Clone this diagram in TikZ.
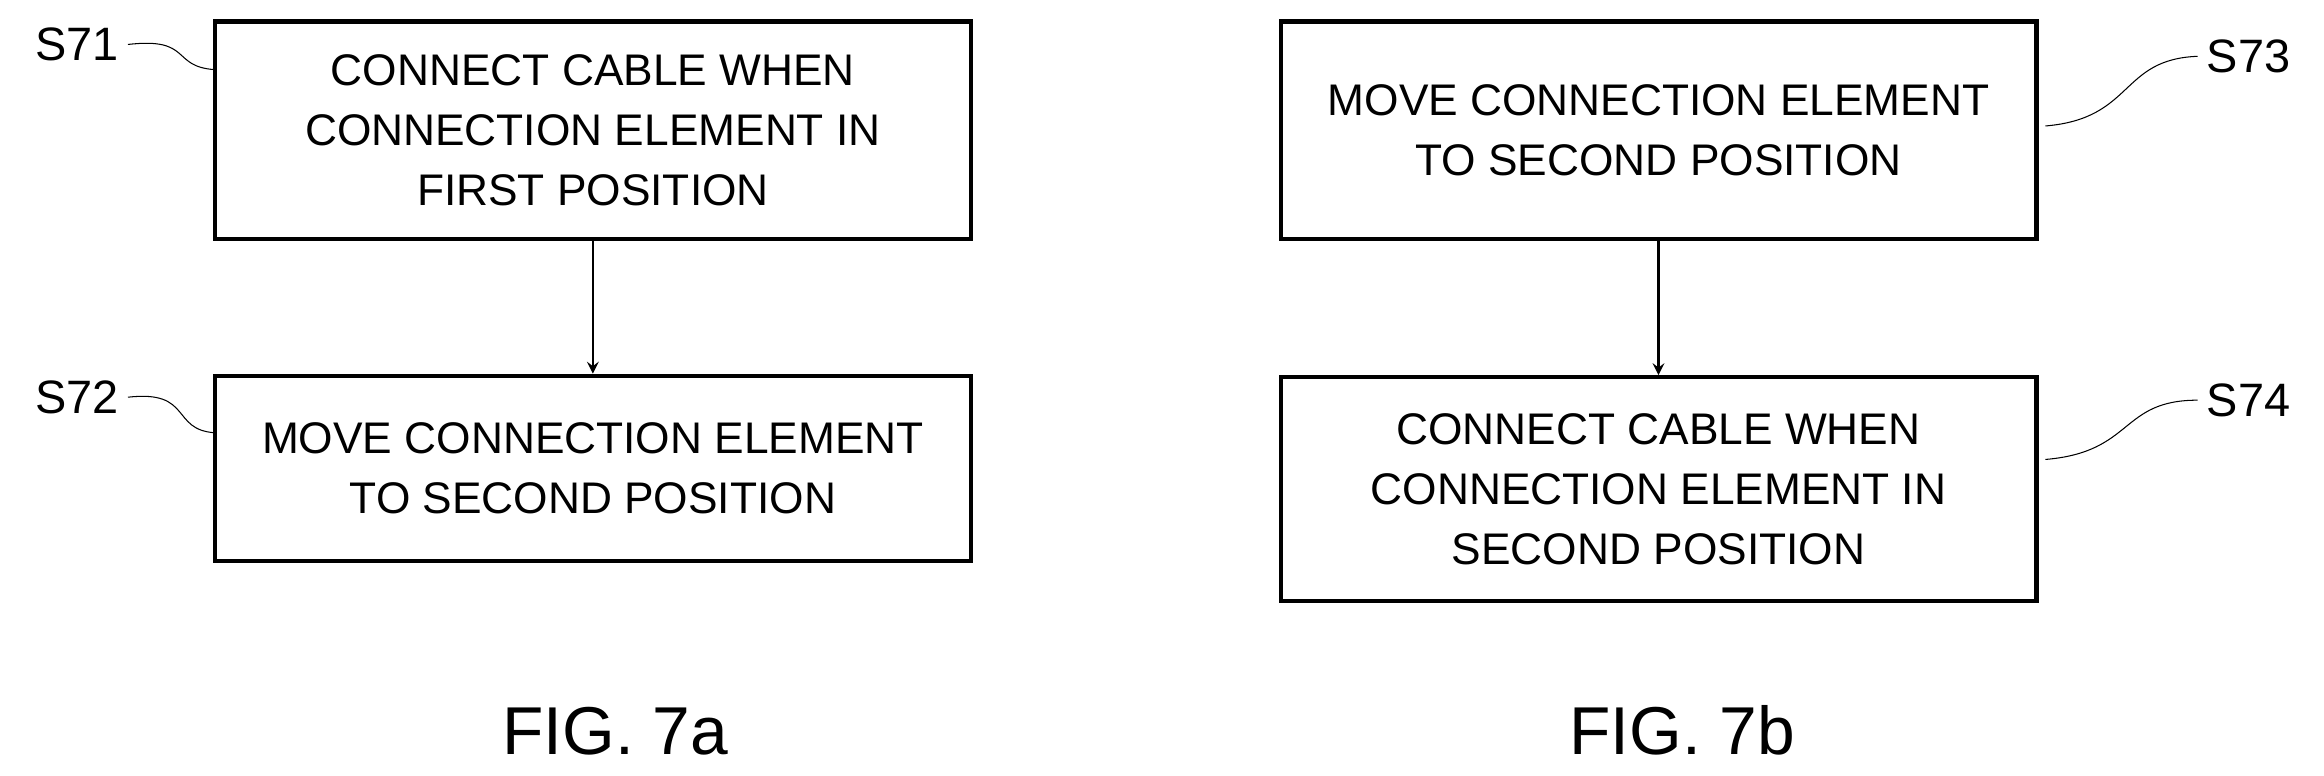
\documentclass[tikz,border=0pt]{standalone}
\usepackage{fontspec}
\setmainfont{Liberation Sans}
\usetikzlibrary{positioning}
\begin{document}
\begin{tikzpicture}[x=0.02cm, y=-0.02cm, font=\fontsize{17}{23}\selectfont]
\tikzstyle{stepbox} = [draw=black, line width=1.6pt, align=center, inner sep=0pt, minimum width=10.2cm]
\tikzstyle{arrow} = [->, >=stealth, line width=1pt, draw=black]
\tikzstyle{squig} = [thin, draw=black]
\tikzstyle{tag} = [font=\fontsize{18}{20}\selectfont]
\tikzstyle{fig} = [font=\fontsize{26}{30}\selectfont]
\useasboundingbox (0,0) rectangle (1568,523);

% FIG. 7a
\node[stepbox, minimum height=2.94cm] (S71) at (400,88) {CONNECT CABLE WHEN\\CONNECTION ELEMENT IN\\FIRST POSITION};
\node[stepbox, minimum height=2.5cm] (S72) at (400,316) {MOVE CONNECTION ELEMENT\\TO SECOND POSITION};
\draw[arrow] (S71) -- (S72);
\node[tag] (t71) at (52,30) {S71};
\node[tag] (t72) at (52,268) {S72};
\draw[squig] (t71.east) .. controls (130,25) and (115,45) .. (145,47);
\draw[squig] (t72.east) .. controls (130,263) and (115,290) .. (145,292);
\node[fig] (fa) at (415,493) {FIG. 7a};

% FIG. 7b
\node[stepbox, minimum height=2.94cm] (S73) at (1119,88) {MOVE CONNECTION ELEMENT\\TO SECOND POSITION};
\node[stepbox, minimum height=3.02cm] (S74) at (1119,330) {CONNECT CABLE WHEN\\CONNECTION ELEMENT IN\\SECOND POSITION};
\draw[arrow] (S73) -- (S74);
\node[tag] (t73) at (1517,38) {S73};
\node[tag] (t74) at (1517,270) {S74};
\draw[squig] (t73.west) .. controls (1430,40) and (1440,80) .. (1380,85);
\draw[squig] (t74.west) .. controls (1430,270) and (1440,305) .. (1380,310);
\node[fig] (fb) at (1135,493) {FIG. 7b};
\end{tikzpicture}
\end{document}
